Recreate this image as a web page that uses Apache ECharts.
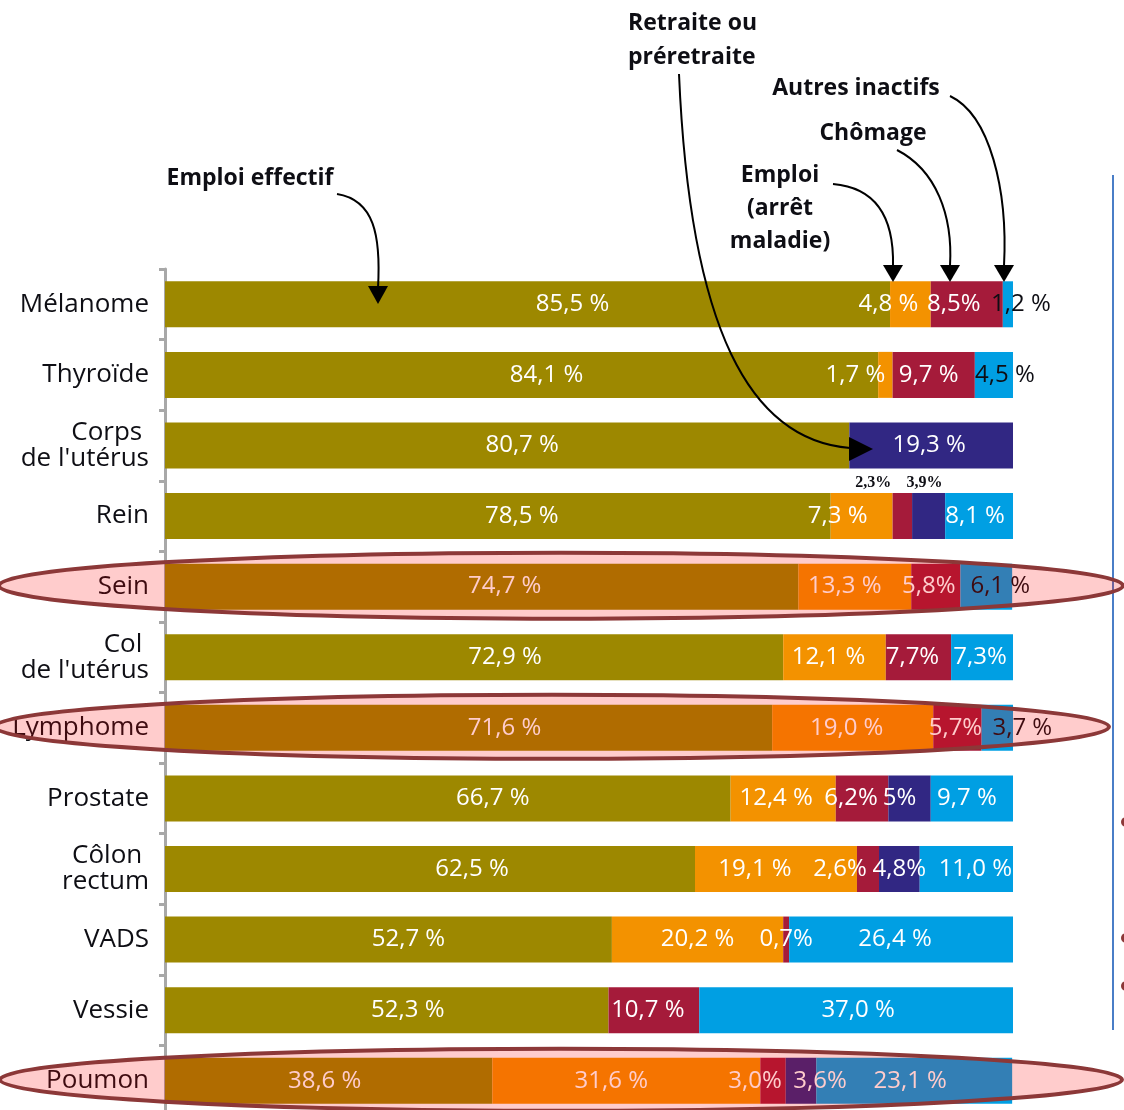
<!DOCTYPE html>
<html>
<head>
<meta charset="utf-8">
<script src="https://cdn.jsdelivr.net/npm/echarts/dist/echarts.min.js"></script>
<style>
  html, body { margin: 0; padding: 0; background: #ffffff; }
  #chart { width: 1124px; height: 1110px; }
</style>
</head>
<body>
<div id="chart"></div>
<script>
// Situation professionnelle selon la localisation du cancer (% des personnes)
const categories = [
  'Mélanome', 'Thyroïde', "Corps \nde l'utérus", 'Rein', 'Sein', "Col \nde l'utérus",
  'Lymphome', 'Prostate', 'Côlon \nrectum', 'VADS', 'Vessie', 'Poumon'
];
const emploiEffectif = [85.5, 84.1, 80.7, 78.5, 74.7, 72.9, 71.6, 66.7, 62.5, 52.7, 52.3, 38.6];
const emploiArretMaladie = [4.8, 1.7, 0, 7.3, 13.3, 12.1, 19.0, 12.4, 19.1, 20.2, 0, 31.6];
const chomage = [8.5, 9.7, 0, 2.3, 5.8, 7.7, 5.7, 6.2, 2.6, 0.7, 10.7, 3.0];
const retraite = [0, 0, 19.3, 3.9, 0, 0, 0, 5, 4.8, 0, 0, 3.6];
const autresInactifs = [1.2, 4.5, 0, 8.1, 6.1, 7.3, 3.7, 9.7, 11.0, 26.4, 37.0, 23.1];

// rows circled in the figure
const highlighted = ['Sein', 'Lymphome', 'Poumon'];

// horizontal nudges of the value labels inside each segment
const shiftEffectif = [45, 25, 15, 24, 23, 31, 36, 45, 42, 20, 21, -4];
const shiftArret    = [-22, -30, 0, -24, -10, -6, -6, -7, -21, 0, 0, -15];
const shiftChomage  = [-13, -5, 0, -29, -7, -6, -2, -11, -28, 0, -6, -18];
const shiftRetraite = [0, 0, -2, -4, 0, 0, 0, -10, 0, 0, 0, 19];
const shiftAutres   = [13, 11, 0, -4, 14, -2, 25, -5, 9, -6, 2, -4];

const FONT = '"Open Sans", "Noto Sans", sans-serif';
const TEXT_DARK = '#0E0E14';

const seriesDefs = [
  { name: 'Emploi effectif', values: emploiEffectif, color: '#9D8800', shift: shiftEffectif,
    tight: () => false },
  { name: 'Emploi (arrêt maladie)', values: emploiArretMaladie, color: '#F39200', shift: shiftArret,
    tight: () => false },
  { name: 'Chômage', values: chomage, color: '#A51B3A', shift: shiftChomage,
    tight: (i) => i !== 1 && i !== 10 },
  { name: 'Retraite ou préretraite', values: retraite, color: '#312783', shift: shiftRetraite,
    tight: (i) => i !== 2 },
  { name: 'Autres inactifs', values: autresInactifs, color: '#009FE3', shift: shiftAutres,
    tight: (i) => i === 5, dark: [0, 1, 4, 6] }
];

// Rein: the two narrow segments get their value written above the bar
const aboveBar = { 'Chômage': [3], 'Retraite ou préretraite': [3] };

function pct(v, tight) {
  const digits = Number.isInteger(v) && v === 5 ? 0 : 1;
  return v.toFixed(digits).replace('.', ',') + (tight ? '%' : ' %');
}

const series = seriesDefs.map((def) => ({
  name: def.name,
  type: 'bar',
  stack: 'total',
  barWidth: 46,
  itemStyle: { color: def.color },
  emphasis: { disabled: true },
  label: {
    show: true,
    position: 'inside',
    color: '#ffffff',
    fontFamily: FONT,
    fontSize: 24,
    formatter: (p) => pct(p.value, def.tight(p.dataIndex))
  },
  data: def.values.map((v, i) => {
    const item = { value: v };
    if (!v) {
      item.label = { show: false };
      return item;
    }
    const above = (aboveBar[def.name] || []).indexOf(i) >= 0;
    if (above) {
      item.label = {
        position: 'top',
        distance: 2,
        offset: [def.shift[i], 0],
        color: TEXT_DARK,
        fontFamily: '"Liberation Serif", "DejaVu Serif", serif',
        fontWeight: 'bold',
        fontSize: 16
      };
    } else {
      item.label = { offset: [def.shift[i], 0] };
      if (def.dark && def.dark.indexOf(i) >= 0) item.label.color = TEXT_DARK;
    }
    return item;
  })
}));

const chart = echarts.init(document.getElementById('chart'), null, { renderer: 'canvas' });

chart.setOption({
  backgroundColor: '#ffffff',
  animation: false,
  grid: { left: 165, right: 111, top: 269, height: 847, containLabel: false, outerBoundsMode: 'none' },
  xAxis: { type: 'value', min: 0, max: 100, show: false },
  yAxis: {
    type: 'category',
    inverse: true,
    data: categories,
    axisLine: { show: true, lineStyle: { color: '#A8A8A8', width: 3 } },
    axisTick: { show: true, length: 6, lineStyle: { color: '#A8A8A8', width: 3 } },
    axisLabel: {
      color: TEXT_DARK,
      fontFamily: FONT,
      fontSize: 26,
      lineHeight: 26,
      margin: 16,
      align: 'right'
    },
    splitLine: { show: false }
  },
  series: series
});

// ---- annotations: series names with curved arrows, circled rows ----
const ANN = { fill: TEXT_DARK, fontFamily: FONT, fontWeight: 'bold', fontSize: 23 };

function label(text, x, y, align, lineHeight) {
  return {
    type: 'text', z: 50, x: x, y: y,
    style: Object.assign({ text: text, align: align || 'center', verticalAlign: 'middle',
      lineHeight: lineHeight || 33 }, ANN)
  };
}
function curve(x1, y1, cpx1, cpy1, cpx2, cpy2, x2, y2) {
  return {
    type: 'bezierCurve', z: 50,
    shape: { x1, y1, cpx1, cpy1, cpx2, cpy2, x2, y2 },
    style: { stroke: '#000000', lineWidth: 2, fill: null }
  };
}
function head(points) {
  return { type: 'polygon', z: 51, shape: { points: points }, style: { fill: '#000000' } };
}

const graphics = [
  label('Emploi effectif', 250, 178),
  curve(337, 194, 374, 200, 381, 235, 378, 288),
  head([[378, 304], [368, 286], [388, 286]]),

  label('Retraite ou\npréretraite', 628, 40, 'left', 34),
  curve(679, 74, 690, 330, 750, 440, 850, 448),
  head([[873, 449], [849, 437], [849, 461]]),

  label('Emploi\n(arrêt\nmaladie)', 780, 208, 'center', 33),
  curve(833, 184, 880, 188, 894, 222, 893, 266),
  head([[893, 282], [883, 265], [903, 265]]),

  label('Chômage', 873, 133),
  curve(897, 150, 936, 170, 953, 215, 950, 266),
  head([[950, 282], [940, 265], [960, 265]]),

  label('Autres inactifs', 856, 88),
  curve(950, 96, 990, 115, 1008, 190, 1004, 266),
  head([[1004, 282], [994, 265], [1014, 265]]),

  // frame edge and bullets of the neighbouring text column
  { type: 'line', z: 1, shape: { x1: 1113, y1: 175, x2: 1113, y2: 1030 },
    style: { stroke: '#4A7EC7', lineWidth: 2 } },
  { type: 'circle', z: 1, shape: { cx: 1126, cy: 822, r: 5 }, style: { fill: '#8C3838' } },
  { type: 'circle', z: 1, shape: { cx: 1126, cy: 938, r: 5 }, style: { fill: '#8C3838' } },
  { type: 'circle', z: 1, shape: { cx: 1126, cy: 986, r: 5 }, style: { fill: '#8C3838' } }
];

// translucent red ellipses around the highlighted rows
const ellipseSpan = { 'Sein': [561, 562, 33], 'Lymphome': [552, 557, 32], 'Poumon': [561, 561, 31] };
highlighted.forEach((name) => {
  const pos = chart.convertToPixel({ gridIndex: 0 }, [0, name]);
  const span = ellipseSpan[name];
  graphics.push({
    type: 'ellipse', z: 100,
    shape: { cx: span[0], cy: pos[1] - 1, rx: span[1], ry: span[2] },
    style: { fill: 'rgba(255,0,0,0.2)', stroke: '#8C3838', lineWidth: 4 }
  });
});

chart.setOption({ graphic: graphics });
</script>
</body>
</html>
